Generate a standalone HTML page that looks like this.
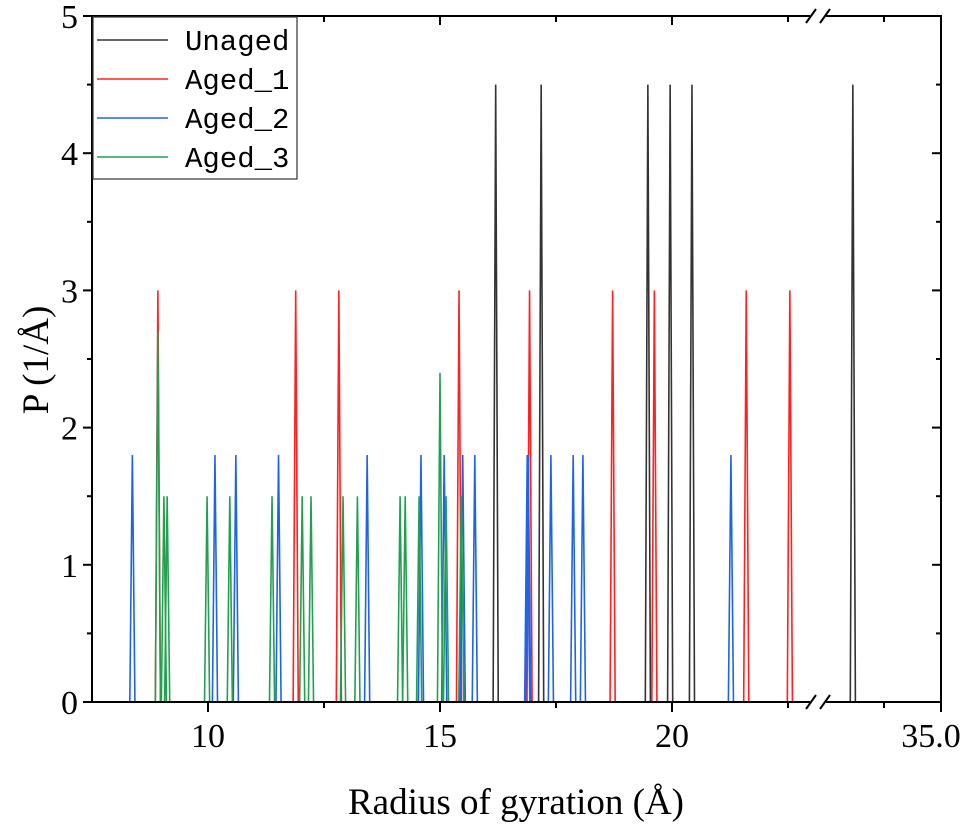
<!DOCTYPE html>
<html><head><meta charset="utf-8"><style>
html,body{margin:0;padding:0;background:#fff;}
svg text{font-family:"Liberation Serif",serif;fill:#000;}
svg text.mono{font-family:"Liberation Mono",monospace;}
</style></head><body>
<svg id="chart" width="975" height="825" viewBox="0 0 975 825" xmlns="http://www.w3.org/2000/svg">
<g id="marks"></g><g id="axes"></g>
</svg>
<script>
const unagedX=[16.2,17.18,19.48,19.96,20.43,33.1];
const unagedY=[4.5,4.5,4.5,4.5,4.5,4.5];
const aged1X=[8.92,11.89,12.82,15.41,16.93,18.72,19.62,21.6,22.54];
const aged1Y=[3,3,3,3,3,3,3,3,3];
const aged2X=[8.37,10.15,10.6,11.52,13.43,14.59,15.09,15.49,15.75,16.88,16.9,17.39,17.87,18.08,21.27];
const aged2Y=[1.8,1.8,1.8,1.8,1.8,1.8,1.8,1.8,1.8,1.8,1.8,1.8,1.8,1.8,1.8];
const aged3X=[8.92,9.05,9.12,9.98,10.47,11.38,12.03,12.22,12.91,13.22,14.14,14.25,14.55,15.0,15.13,15.46];
const aged3Y=[2.7,1.5,1.5,1.5,1.5,1.5,1.5,1.5,1.5,1.5,1.5,1.5,1.5,2.4,1.5,1.5];
const yTicks=[0,1,2,3,4,5];
const xTicksLeft=[10,15,20];
const xTickLabelRight=["35.0"];

const NS="http://www.w3.org/2000/svg";
const L=92,R=941,T=16,B=702,BRK=818;
function sx(v){ if(v<=23.15) return 208+(v-10)*46.4; return 941-(35-v)*46.4; }
function sy(v){ return B-v*(B-T)/5; }
function mk(tag,attrs,parent){const e=document.createElementNS(NS,tag);for(const k in attrs)e.setAttribute(k,attrs[k]);parent.appendChild(e);return e;}
const marks=document.getElementById('marks'), axes=document.getElementById('axes');
const series=[["unaged",unagedX,unagedY,"#333333"],["aged-1",aged1X,aged1Y,"#ff2020"],["aged-2",aged2X,aged2Y,"#1e64e6"],["aged-3",aged3X,aged3Y,"#22a050"]];
const hw=0.055;
series.forEach(s=>{
  s[1].forEach((x,i)=>{
    const p=mk('polyline',{points:`${sx(x-hw)},${B} ${sx(x)},${sy(s[2][i])} ${sx(x+hw)},${B}`,fill:'none',stroke:s[3],'stroke-width':1.6},marks);
    
    
  });
});
const fr=mk('path',{d:`M${L},${T}H${BRK-8}M${BRK+8},${T}H${R}V${B}H${BRK+8}M${BRK-8},${B}H${L}V${T}`,fill:'none',stroke:'#000','stroke-width':2},axes);


[[T],[B]].forEach(([y])=>{
  const b=mk('path',{d:`M${BRK-12},${y+7}L${BRK-2},${y-7}M${BRK+2},${y+7}L${BRK+12},${y-7}`,stroke:'#000','stroke-width':2,fill:'none'},axes);
  
  
});
yTicks.forEach(v=>{
  const y=sy(v);
  mk('line',{x1:L-9,x2:L,y1:y,y2:y,stroke:'#000','stroke-width':2},axes);
  mk('line',{x1:R-9,x2:R,y1:y,y2:y,stroke:'#000','stroke-width':2},axes);
  const t=mk('text',{x:L-14,y:y+12,'text-anchor':'end','font-size':34},axes);t.textContent=v;
  
  
  if(v<5){const m=sy(v+0.5);
    mk('line',{x1:L-5,x2:L,y1:m,y2:m,stroke:'#000','stroke-width':2},axes);
    mk('line',{x1:R-5,x2:R,y1:m,y2:m,stroke:'#000','stroke-width':2},axes);}
});
[10,12.5,15,17.5,20,22.5].forEach(v=>{
  const x=sx(v), major=(v%5===0);
  mk('line',{x1:x,x2:x,y1:B,y2:B+(major?10:6),stroke:'#000','stroke-width':2},axes);
  mk('line',{x1:x,x2:x,y1:T,y2:T+(major?9:6),stroke:'#000','stroke-width':2},axes);
});
xTicksLeft.forEach(v=>{
  const t=mk('text',{x:sx(v),y:B+45,'text-anchor':'middle','font-size':34},axes);t.textContent=v;
  
  
});
mk('line',{x1:884,x2:884,y1:B,y2:B+6,stroke:'#000','stroke-width':2},axes);
mk('line',{x1:884,x2:884,y1:T,y2:T+6,stroke:'#000','stroke-width':2},axes);
mk('line',{x1:R,x2:R,y1:B,y2:B+10,stroke:'#000','stroke-width':2},axes);
const tr=mk('text',{x:R-10,y:B+45,'text-anchor':'middle','font-size':34},axes);tr.textContent=xTickLabelRight[0];


</script>
<svg style="position:absolute;left:0;top:0" width="975" height="825">
<text x="516" y="814" text-anchor="middle" font-size="37">Radius of gyration (Å)</text>
<text transform="translate(48,360) rotate(-90)" text-anchor="middle" font-size="37">P (1/Å)</text>
<g>
<rect x="93" y="17" width="204" height="162" fill="#fff" stroke="#333" stroke-width="1.2"/>
<g><line x1="97" x2="168" y1="40" y2="40" stroke="#333" stroke-width="1.5"/><text class="mono" x="185" y="50" font-size="29">Unaged</text></g>
<g><line x1="97" x2="168" y1="79" y2="79" stroke="#ff2020" stroke-width="1.5"/><text class="mono" x="185" y="89" font-size="29">Aged_1</text></g>
<g><line x1="97" x2="168" y1="118" y2="118" stroke="#1e64e6" stroke-width="1.5"/><text class="mono" x="185" y="128" font-size="29">Aged_2</text></g>
<g><line x1="97" x2="168" y1="157" y2="157" stroke="#22a050" stroke-width="1.5"/><text class="mono" x="185" y="167" font-size="29">Aged_3</text></g>
</g>
</svg>
</body></html>
